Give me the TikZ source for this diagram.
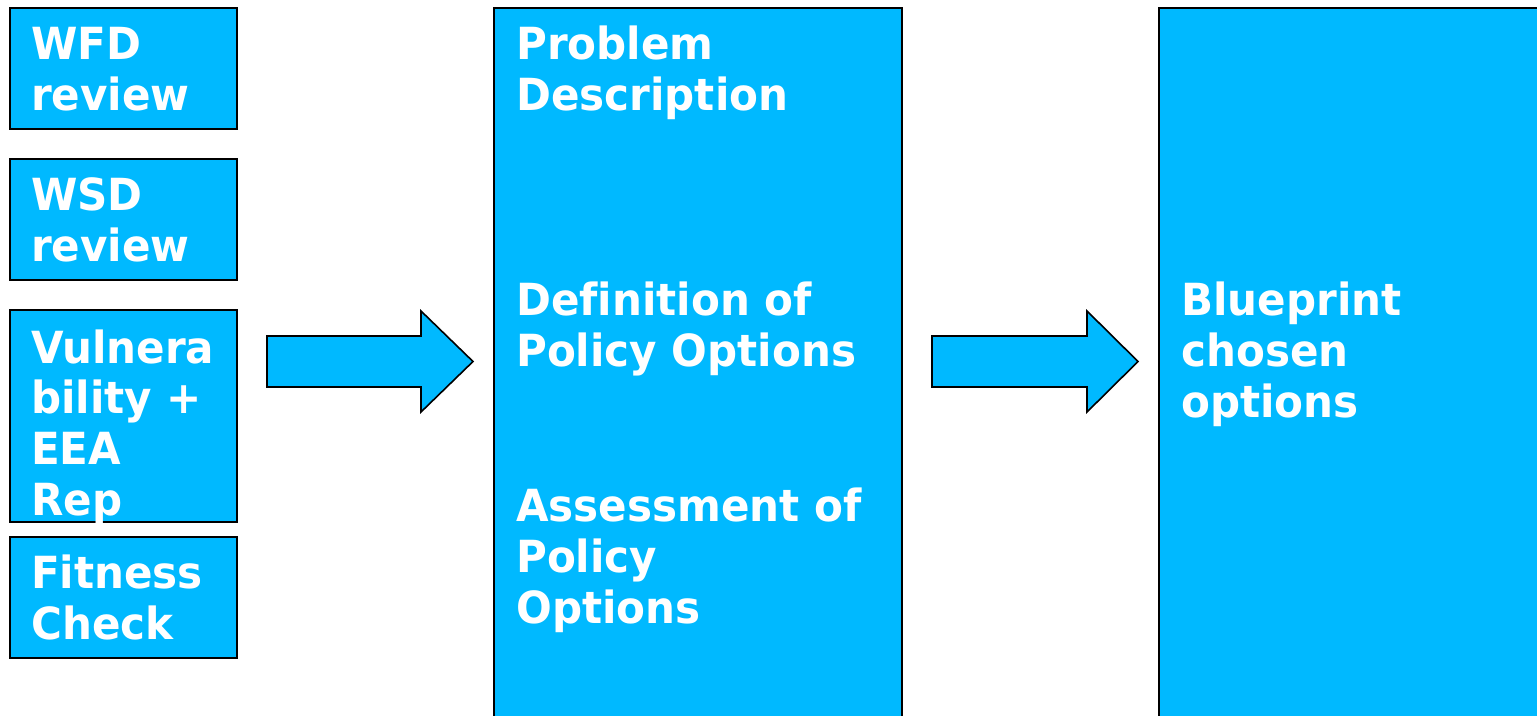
\documentclass[tikz,border=0pt]{standalone}
\usepackage{fontspec}
\setmainfont{DejaVu Sans}[FakeStretch=0.95, Ligatures=NoCommon]
\usetikzlibrary{fit}
\definecolor{boxblue}{RGB}{0,185,255}
\begin{document}
\begin{tikzpicture}[x=0.75pt,y=-0.75pt,
  panel/.style={draw=black, line width=1.2pt, fill=boxblue, inner sep=0pt},
  lbl/.style={text=white, font=\bfseries\fontsize{33.2}{37.9}\selectfont, align=left, anchor=base west, inner sep=0pt},
  blockarrow/.style={draw=black, line width=1.2pt, fill=boxblue, line join=miter}]
\useasboundingbox (0,0) rectangle (1537,715);
\clip (0,0) rectangle (1537,715);
% left column
\node[panel, fit={(10,8) (237,129)}] (wfd) {};
\node[panel, fit={(10,159) (237,280)}] (wsd) {};
\node[panel, fit={(10,310) (237,522)}] (vul) {};
\node[panel, fit={(10,537) (237,658)}] (fit) {};
\node[lbl] (wfdt) at (31,110.5) {WFD\\review};
\node[lbl] (wsdt) at (31,261) {WSD\\review};
\node[lbl] (vult) at (31,515) {Vulnera\\bility +\\EEA\\Rep};
\node[lbl] (fitt) at (31,639) {Fitness\\Check};
% middle
\node[panel, fit={(494,8) (902,760)}] (mid) {};
\node[lbl] (prob) at (516,110.5) {Problem\\Description};
\node[lbl] (defn) at (516,366.5) {Definition of\\Policy Options};
\node[lbl] (asse) at (516,623) {Assessment of\\Policy\\Options};
% right
\node[panel, fit={(1159,8) (1600,760)}] (blue) {};
\node[lbl] (bluet) at (1181,417) {Blueprint\\chosen\\options};
% arrows
\draw[blockarrow] (267,336) -- (421,336) -- (421,311) -- (473,361.5) -- (421,412) -- (421,387) -- (267,387) -- cycle;
\draw[blockarrow] (932,336) -- (1087,336) -- (1087,311) -- (1138,361.5) -- (1087,412) -- (1087,387) -- (932,387) -- cycle;
\end{tikzpicture}
\end{document}
